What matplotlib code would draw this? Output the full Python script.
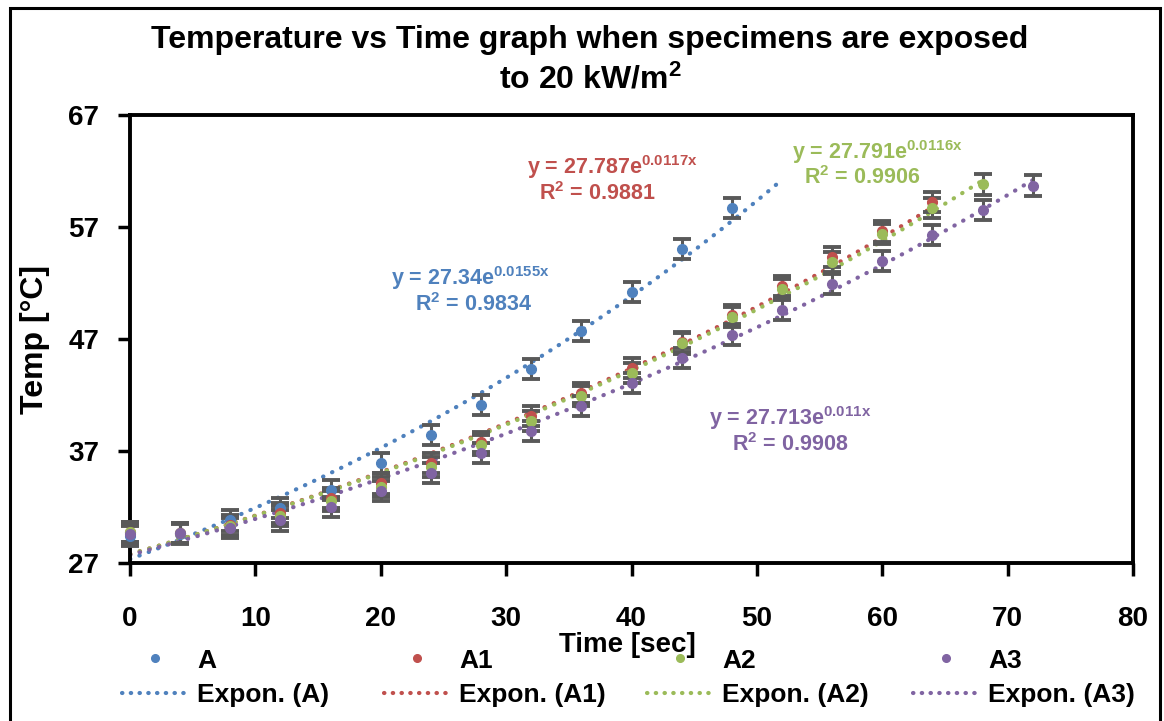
import numpy as np
import matplotlib
matplotlib.use("Agg")
import matplotlib.pyplot as plt
from matplotlib.lines import Line2D
from matplotlib.patches import Rectangle

# Data
time_A = [0, 4, 8, 12, 16, 20, 24, 28, 32, 36, 40, 44, 48]
temp_A = [29.4, 29.6, 30.8, 31.9, 33.5, 35.9, 38.4, 41.1, 44.3, 47.7, 51.2, 55.0, 58.7]

time_A1 = [0, 4, 8, 12, 16, 20, 24, 28, 32, 36, 40, 44, 48, 52, 56, 60, 64]
temp_A1 = [29.8, 29.7, 30.4, 31.5, 32.8, 34.1, 35.9, 37.8, 40.1, 42.2, 44.4, 46.7, 49.1, 51.7, 54.3, 56.6, 59.2]

time_A2 = [0, 4, 8, 12, 16, 20, 24, 28, 32, 36, 40, 44, 48, 52, 56, 60, 64, 68]
temp_A2 = [29.8, 29.7, 30.3, 31.2, 32.5, 33.8, 35.6, 37.5, 39.7, 41.9, 44.0, 46.6, 49.0, 51.5, 53.9, 56.4, 58.7, 60.8]

time_A3 = [0, 4, 8, 12, 16, 20, 24, 28, 32, 36, 40, 44, 48, 52, 56, 60, 64, 68, 72]
temp_A3 = [29.6, 29.7, 30.1, 30.8, 32.0, 33.4, 35.0, 36.8, 38.8, 41.0, 43.1, 45.3, 47.4, 49.6, 51.9, 54.0, 56.3, 58.5, 60.7]

err = 0.9  # error bar half-width

# Excel exponential trendlines: y = a * exp(b x), as labelled on the chart
series_names = ["A", "A1", "A2", "A3"]
trend_a = [27.34, 27.787, 27.791, 27.713]
trend_b = [0.0155, 0.0117, 0.0116, 0.011]
trend_a_txt = ["27.34", "27.787", "27.791", "27.713"]
trend_b_txt = ["0.0155", "0.0117", "0.0116", "0.011"]
r2_txt = ["0.9834", "0.9881", "0.9906", "0.9908"]
trend_end = [52, 64, 68, 72]

colors = ["#4F81BD", "#C0504D", "#9BBB59", "#8064A2"]

FONT = ["Liberation Sans", "DejaVu Sans"]
plt.rcParams["font.family"] = FONT
plt.rcParams["font.weight"] = "bold"
plt.rcParams["mathtext.default"] = "regular"

W, H = 1164, 721
fig = plt.figure(figsize=(W / 100, H / 100), dpi=100)
ax = fig.add_axes([130 / W, 1 - 563 / H, (1133 - 130) / W, (563 - 115) / H])

xs_all = [time_A, time_A1, time_A2, time_A3]
ys_all = [temp_A, temp_A1, temp_A2, temp_A3]

dotted = (0, (0.1, 2.3))
for i in range(4):
    xf = np.linspace(0, trend_end[i], 200)
    ax.plot(xf, trend_a[i] * np.exp(trend_b[i] * xf), color=colors[i], lw=3.0,
            linestyle=dotted, dash_capstyle="round", zorder=2)

for i in range(4):
    ax.errorbar(xs_all[i], ys_all[i], yerr=err, fmt="o", color=colors[i], ms=7,
                ecolor="#595959", elinewidth=2.2, capsize=6.5, capthick=2.8, zorder=3,
                clip_on=False)

ax.set_xlim(0, 80)
ax.set_ylim(27, 67)
ax.set_xticks(range(0, 81, 10))
ax.set_yticks([27, 37, 47, 57, 67])
ax.tick_params(direction="out", length=9, width=2.5, labelsize=20)
ax.tick_params(axis="x", pad=22)
ax.tick_params(axis="y", pad=13)
for lab in ax.get_xticklabels() + ax.get_yticklabels():
    lab.set_fontweight("bold")
for sp in ax.spines.values():
    sp.set_linewidth(2.8)
ax.set_ylabel("Temp [°C]", fontsize=23, fontweight="bold")
ax.yaxis.set_label_coords((50 - 130) / (1133 - 130), 0.5)
fig.text(627 / W, 1 - 645 / H, "Time [sec]", fontsize=20, fontweight="bold",
         ha="center", va="center")

fig.text(590 / W, 1 - 40 / H, "Temperature vs Time graph when specimens are exposed",
         fontsize=23, fontweight="bold", ha="center", va="center")
fig.text(590 / W, 1 - 80 / H, "to 20 kW/m$^2$", fontsize=23, fontweight="bold",
         ha="center", va="center")

# trendline labels
label_pos = [(470, 278, 473, 305), (612, 167, 597, 194), (877, 152, 862, 178), (790, 418, 790, 445)]
for i in range(4):
    x1, y1, x2, y2 = label_pos[i]
    fig.text(x1 / W, 1 - y1 / H, "y = " + trend_a_txt[i] + "e$^{" + trend_b_txt[i] + "x}$",
             color=colors[i], fontsize=15.5, fontweight="bold", ha="center", va="center")
    fig.text(x2 / W, 1 - y2 / H, "R$^2$ = " + r2_txt[i],
             color=colors[i], fontsize=15.5, fontweight="bold", ha="center", va="center")

# legend: one column per series, evenly spaced like Excel
col_x = [122, 384, 647, 913]
for i in range(4):
    h1 = Line2D([], [], ls="none", marker="o", ms=5.5, color=colors[i])
    h2 = Line2D([], [], color=colors[i], lw=3.0, linestyle=(0, (0.1, 2.0)),
                dash_capstyle="round")
    fig.legend([h1, h2], [series_names[i], "Expon. (" + series_names[i] + ")"],
               loc="center left", bbox_to_anchor=(col_x[i] / W, 1 - 678 / H),
               frameon=False, borderpad=0, borderaxespad=0, handlelength=2.5,
               handletextpad=0.35, labelspacing=0.4,
               prop={"size": 19, "weight": "bold", "family": FONT})

# outer chart border
fig.patches.append(Rectangle((10 / W, -0.05), 1150 / W, 1.05 - 8 / H, transform=fig.transFigure,
                             fill=False, edgecolor="black", lw=2.2))

fig.savefig("out.png", dpi=100)
